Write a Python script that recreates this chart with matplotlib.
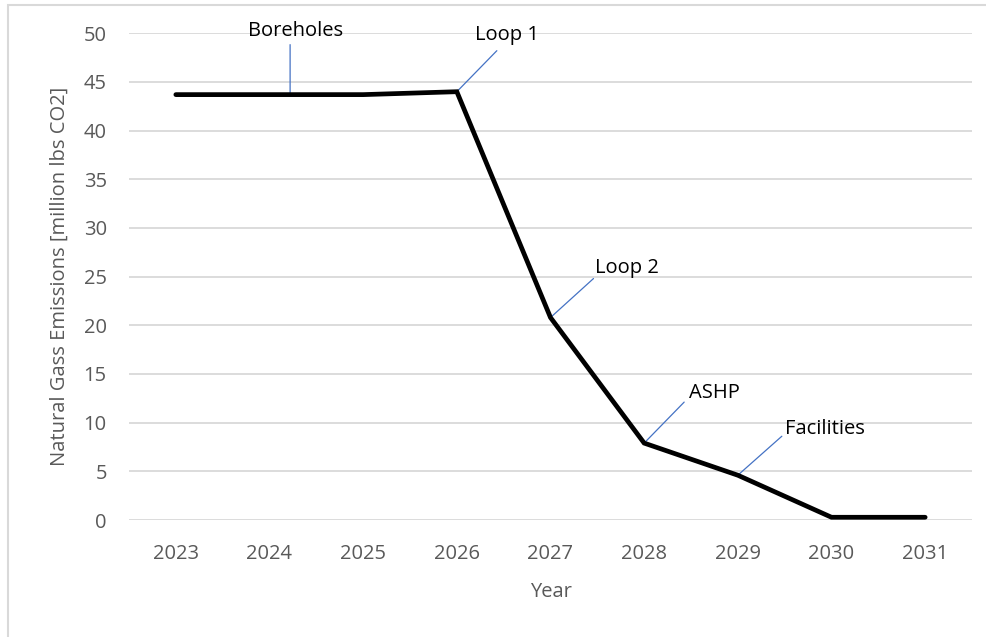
import matplotlib
matplotlib.use("Agg")
import matplotlib.pyplot as plt
from matplotlib.patches import Rectangle

plt.rcParams['font.family'] = ['Open Sans', 'DejaVu Sans']

# emissions per year, million lbs CO2
years = ['2023', '2024', '2025', '2026', '2027', '2028', '2029', '2030', '2031']
emissions = [43.7, 43.7, 43.7, 44.0, 20.8, 7.9, 4.6, 0.28, 0.28]

# milestone labels: (text, year index, shift along x, leader offset px, text offset px, ha)
milestones = [
    ('Boreholes', 1, 0.22, (0, 50), (5, 64), 'center'),
    ('Loop 1', 3, 0.0, (40, 41), (50, 57), 'center'),
    ('Loop 2', 4, 0.0, (43, 39), (45, 50), 'left'),
    ('ASHP', 5, 0.0, (40, 41), (45, 50), 'left'),
    ('Facilities', 6, 0.0, (44, 39), (47, 46), 'left'),
]

grey = '#595959'
grid = '#D9D9D9'
leader = '#4472C4'
fs = 14.5

fig = plt.figure(figsize=(9.87, 6.37), dpi=100)
ax = fig.add_axes([129 / 987, 1 - 520 / 637, 843 / 987, 486.7 / 637])

x = list(range(len(years)))
ax.plot(x, emissions, color='black', lw=3.4, solid_capstyle='round',
        solid_joinstyle='miter', zorder=3)

ax.set_xlim(-0.5, len(years) - 0.5)
ax.set_ylim(0, 50)
ax.set_yticks(range(0, 51, 5))
ax.set_xticks(x)
ax.set_xticklabels(years)
ax.grid(axis='y', color=grid, lw=1.3)
ax.set_axisbelow(True)
for s in ax.spines.values():
    s.set_visible(False)
ax.tick_params(axis='both', length=0, labelsize=fs, labelcolor=grey)
ax.tick_params(axis='x', pad=17)
ax.tick_params(axis='y', pad=16)

ax.set_xlabel('Year', fontsize=fs, color=grey, va='center')
ax.xaxis.set_label_coords(0.5, -0.148)
ax.set_ylabel('Natural Gass Emissions [million lbs CO2]', fontsize=fs,
              color=grey, va='center')
ax.yaxis.set_label_coords(-0.082, 0.5)

for text, i, dx, lead, off, ha in milestones:
    pt = (x[i] + dx, emissions[i])
    ax.annotate('', xy=pt, xytext=lead, textcoords='offset pixels',
                arrowprops=dict(arrowstyle='-', color=leader, lw=0.9,
                                shrinkA=0, shrinkB=0), zorder=2)
    ax.annotate(text, xy=pt, xytext=off, textcoords='offset pixels',
                ha=ha, va='center', fontsize=fs, color='black', zorder=4)

# chart area border
fig.patches.append(Rectangle((8 / 987, -0.1), 2, 1 - 5 / 637 + 0.1,
                             transform=fig.transFigure, fill=False,
                             edgecolor=grid, lw=1.5))

fig.savefig('out.png', dpi=100)
